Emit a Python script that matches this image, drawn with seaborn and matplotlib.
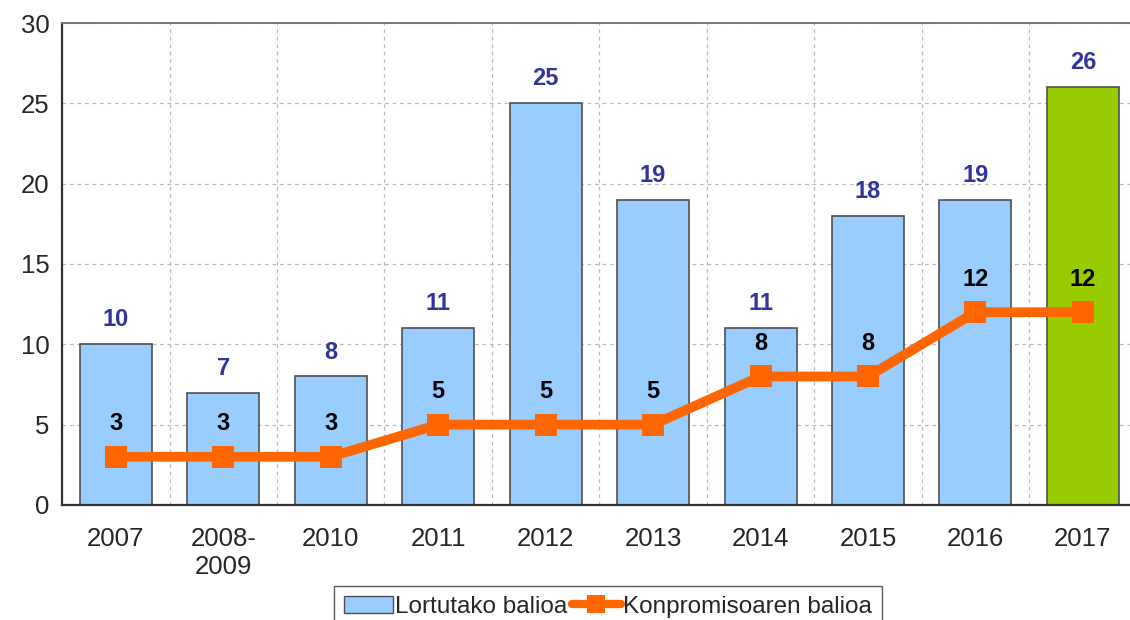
import numpy as np
import pandas as pd
import seaborn as sns
import matplotlib.pyplot as plt
from matplotlib.patches import Patch
from matplotlib.lines import Line2D

years = ['2007', '2008-\n2009', '2010', '2011', '2012', '2013', '2014', '2015', '2016', '2017']
lortutako = [10, 7, 8, 11, 25, 19, 11, 18, 19, 26]
konpromiso = [3, 3, 3, 5, 5, 5, 8, 8, 12, 12]

bar_blue = '#99CCFF'
bar_green = '#99CC00'
line_orange = '#FF6600'

sns.set_style('white')
plt.rcParams['font.family'] = ['Liberation Sans', 'DejaVu Sans']

fig = plt.figure(figsize=(11.3, 6.2), dpi=100)
ax = fig.add_axes([0.0549, 0.1855, 0.951, 0.7774])

df = pd.DataFrame({'urtea': years, 'balioa': lortutako})
colors = [bar_blue] * (len(years) - 1) + [bar_green]
sns.barplot(data=df, x='urtea', y='balioa', hue='urtea', palette=colors,
            legend=False, width=0.67, edgecolor='#505050', linewidth=1.2,
            saturation=1, ax=ax, zorder=2)

pos = np.arange(len(years))
sns.lineplot(x=pos, y=konpromiso, color=line_orange, linewidth=7, marker='s',
             markersize=15.5, markeredgewidth=0, ax=ax, zorder=4)

# value labels
for i, v in enumerate(lortutako):
    ax.text(i, v + 0.8, str(v), ha='center', va='bottom', fontsize=17,
            fontweight='bold', color='#333399')
for i, v in enumerate(konpromiso):
    ax.text(i, v + 1.35, str(v), ha='center', va='bottom', fontsize=17,
            fontweight='bold', color='black')

ax.set_xlim(-0.5, len(years) - 0.5)
ax.set_ylim(0, 30)
ax.set_yticks(range(0, 31, 5))
ax.set_xticks(pos)
ax.set_xticklabels(years, fontsize=18.5)
ax.set_xticks(np.arange(-0.5, len(years), 1), minor=True)
ax.tick_params(axis='y', labelsize=18.5, length=14, width=1.2, color='#333333', pad=2, direction='inout')
ax.tick_params(axis='x', which='both', length=8, width=1.2, color='#333333', direction='out', pad=8)
ax.set_xlabel('')
ax.set_ylabel('')

ax.grid(axis='y', color='#bbbbbb', linestyle=(0, (3, 3)), linewidth=0.9, zorder=0)
ax.grid(axis='x', which='minor', color='#bbbbbb', linestyle=(0, (3, 3)), linewidth=0.9, zorder=0)
ax.set_axisbelow(True)

for side in ['left', 'bottom']:
    ax.spines[side].set_color('#333333')
    ax.spines[side].set_linewidth(1.6)
ax.spines['top'].set_color('#777777')
ax.spines['top'].set_linewidth(1.4)
ax.spines['right'].set_visible(False)

handles = [Patch(facecolor=bar_blue, edgecolor='#505050', linewidth=1.0),
           Line2D([0], [0], color=line_orange, linewidth=6, marker='s',
                  markersize=13, markeredgewidth=0)]
leg = fig.legend(handles, ['Lortutako balioa', 'Konpromisoaren balioa'],
                 loc='center', bbox_to_anchor=(0.538, 0.021), ncol=2,
                 fontsize=17.5, frameon=True, fancybox=False,
                 handlelength=2.0, handletextpad=0.1, columnspacing=0.2,
                 borderpad=0.4, edgecolor='#333333')
leg.get_frame().set_linewidth(1.0)

fig.savefig('out.png', dpi=100)
